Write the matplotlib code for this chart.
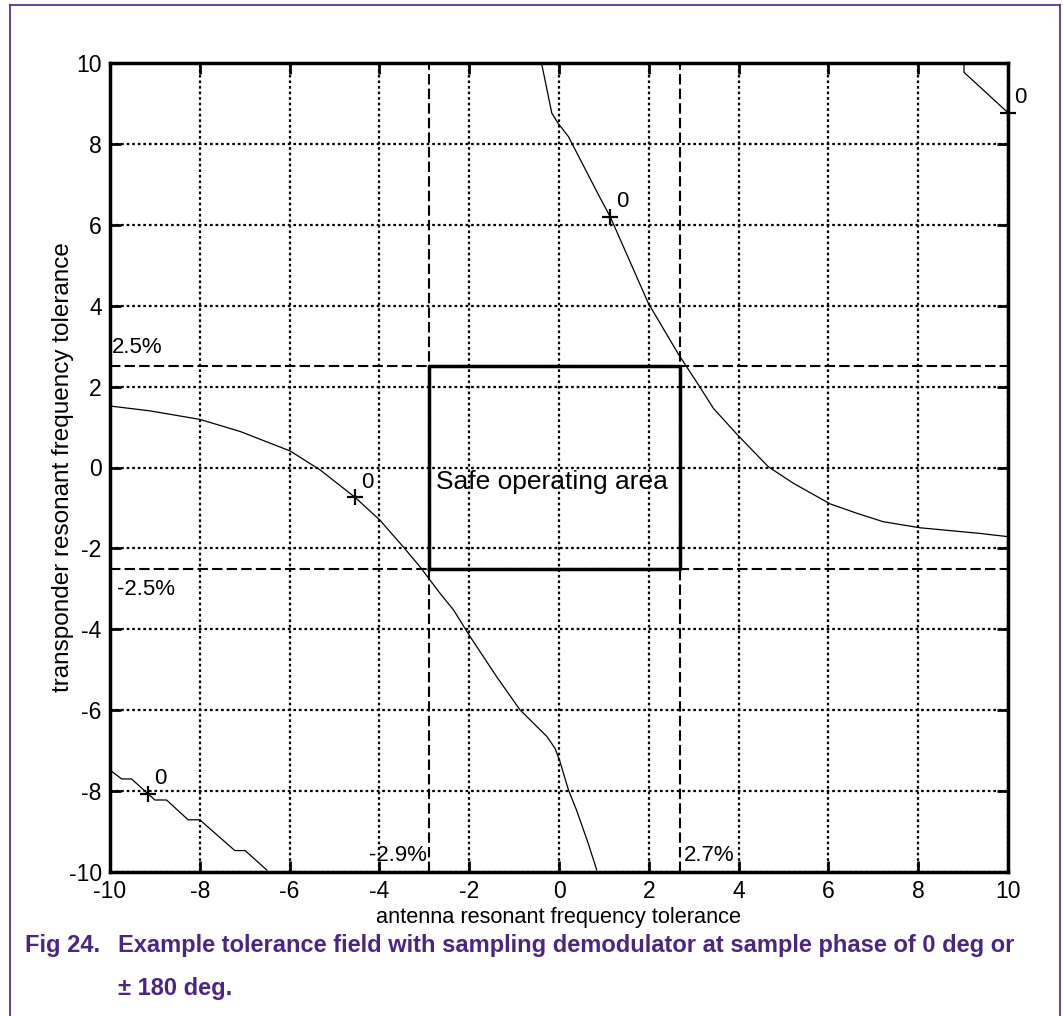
import matplotlib
matplotlib.use("Agg")
import matplotlib.pyplot as plt
from matplotlib.lines import Line2D

plt.rcParams['font.family'] = ['Liberation Sans', 'DejaVu Sans']
plt.rcParams['axes.unicode_minus'] = False

# ---- data ----
curve_a_x = [-0.39, -0.16, -0.02, 0.21, 0.88, 1.14, 1.99, 2.66, 3.12, 3.44, 3.99, 4.66, 5.22, 6.04, 6.63, 7.22, 8.04, 9.38, 10.0]
curve_a_y = [10.0, 8.76, 8.51, 8.18, 6.74, 6.20, 4.06, 2.80, 2.02, 1.46, 0.79, 0.02, -0.39, -0.90, -1.13, -1.34, -1.49, -1.63, -1.71]

curve_b_x = [-10.0, -9.11, -8.0, -7.10, -5.99, -5.32, -4.54, -3.99, -3.47, -3.10, -2.65, -2.35, -1.98, -1.39, -0.87, -0.27, -0.09, 0.01, 0.21, 0.39, 0.65, 0.84]
curve_b_y = [1.52, 1.40, 1.19, 0.89, 0.41, -0.06, -0.74, -1.30, -1.96, -2.45, -3.11, -3.52, -4.18, -5.17, -5.99, -6.65, -6.94, -7.23, -7.97, -8.47, -9.29, -9.95]

curve_c_x = [-10.0, -9.74, -9.52, -9.0, -8.74, -8.26, -8.0, -7.22, -6.99, -6.51]
curve_c_y = [-7.48, -7.70, -7.70, -8.22, -8.22, -8.71, -8.71, -9.47, -9.47, -9.95]

curve_d_x = [9.02, 9.02, 10.0]
curve_d_y = [10.0, 9.77, 8.77]

marker_x = [1.14, -4.54, -9.15, 10.0]
marker_y = [6.20, -0.74, -8.07, 8.77]
marker_text = ["0", "0", "0", "0"]

safe_x = [-2.9, 2.7]
safe_y = [-2.5, 2.5]
limit_labels = ["2.5%", "-2.5%", "-2.9%", "2.7%"]

ticks = [-10, -8, -6, -4, -2, 0, 2, 4, 6, 8, 10]

purple = '#4B2582'

fig = plt.figure(figsize=(10.63, 10.16), dpi=100)
ax = fig.add_axes([110/1063, 1-872/1016, 898/1063, 809/1016])

ax.set_xlim(-10, 10)
ax.set_ylim(-10, 10)
ax.set_xticks(ticks)
ax.set_yticks(ticks)
ax.grid(True, color='black', linestyle=(0, (1.2, 1.3)), linewidth=1.6)
ax.tick_params(direction='in', length=8, width=2, top=True, right=True,
               labelsize=16.5, pad=6)
for s in ax.spines.values():
    s.set_linewidth(2.5)

# curves
for cx, cy in [(curve_a_x, curve_a_y), (curve_b_x, curve_b_y),
               (curve_c_x, curve_c_y), (curve_d_x, curve_d_y)]:
    ax.plot(cx, cy, color='black', linewidth=0.9)

ax.plot(marker_x, marker_y, linestyle='none', marker='+', color='black',
        markersize=11, markeredgewidth=1.6, clip_on=False, zorder=5)
for mx, my, t in zip(marker_x, marker_y, marker_text):
    ax.text(mx + 0.14, my + 0.12, t, fontsize=16, ha='left', va='bottom', clip_on=False)

# limit dashed lines
dash = (0, (5, 2))
for yv in safe_y:
    ax.axhline(yv, color='black', linestyle=dash, linewidth=1.5)
for xv in safe_x:
    ax.axvline(xv, color='black', linestyle=dash, linewidth=1.5)

# safe operating area rectangle
ax.plot([safe_x[0], safe_x[1], safe_x[1], safe_x[0], safe_x[0]],
        [safe_y[0], safe_y[0], safe_y[1], safe_y[1], safe_y[0]],
        color='black', linewidth=2.5)
ax.text(-0.15, -0.35, "Safe operating area", fontsize=19, ha='center', va='center')

ax.text(-9.95, 2.7, limit_labels[0], fontsize=16, ha='left', va='bottom')
ax.text(-9.85, -2.75, limit_labels[1], fontsize=16, ha='left', va='top')
ax.text(safe_x[0] - 0.05, -9.85, limit_labels[2], fontsize=16, ha='right', va='bottom')
ax.text(safe_x[1] + 0.08, -9.85, limit_labels[3], fontsize=16, ha='left', va='bottom')

ax.set_xlabel("antenna resonant frequency tolerance", fontsize=15.7, labelpad=3)
ax.set_ylabel("transponder resonant frequency tolerance", fontsize=17.5)
ax.yaxis.set_label_coords((74 - 110) / 898, 0.5)

# caption
fig.text(25/1063, 1-952/1016, "Fig 24.", color=purple, fontsize=17, fontweight='bold',
         ha='left', va='baseline')
fig.text(118/1063, 1-952/1016,
         "Example tolerance field with sampling demodulator at sample phase of 0 deg or",
         color=purple, fontsize=17, fontweight='bold', ha='left', va='baseline')
fig.text(118/1063, 1-995/1016, "\u00b1 180 deg.", color=purple, fontsize=17,
         fontweight='bold', ha='left', va='baseline')

# purple frame
lw = 1.2
fig.add_artist(Line2D([10/1063, 10/1063], [0, 1-5/1016], transform=fig.transFigure, color=purple, linewidth=lw))
fig.add_artist(Line2D([10/1063, 1060/1063], [1-5/1016, 1-5/1016], transform=fig.transFigure, color=purple, linewidth=lw))
fig.add_artist(Line2D([1060/1063, 1060/1063], [0, 1-5/1016], transform=fig.transFigure, color=purple, linewidth=lw))

fig.savefig("out.png", dpi=100)
